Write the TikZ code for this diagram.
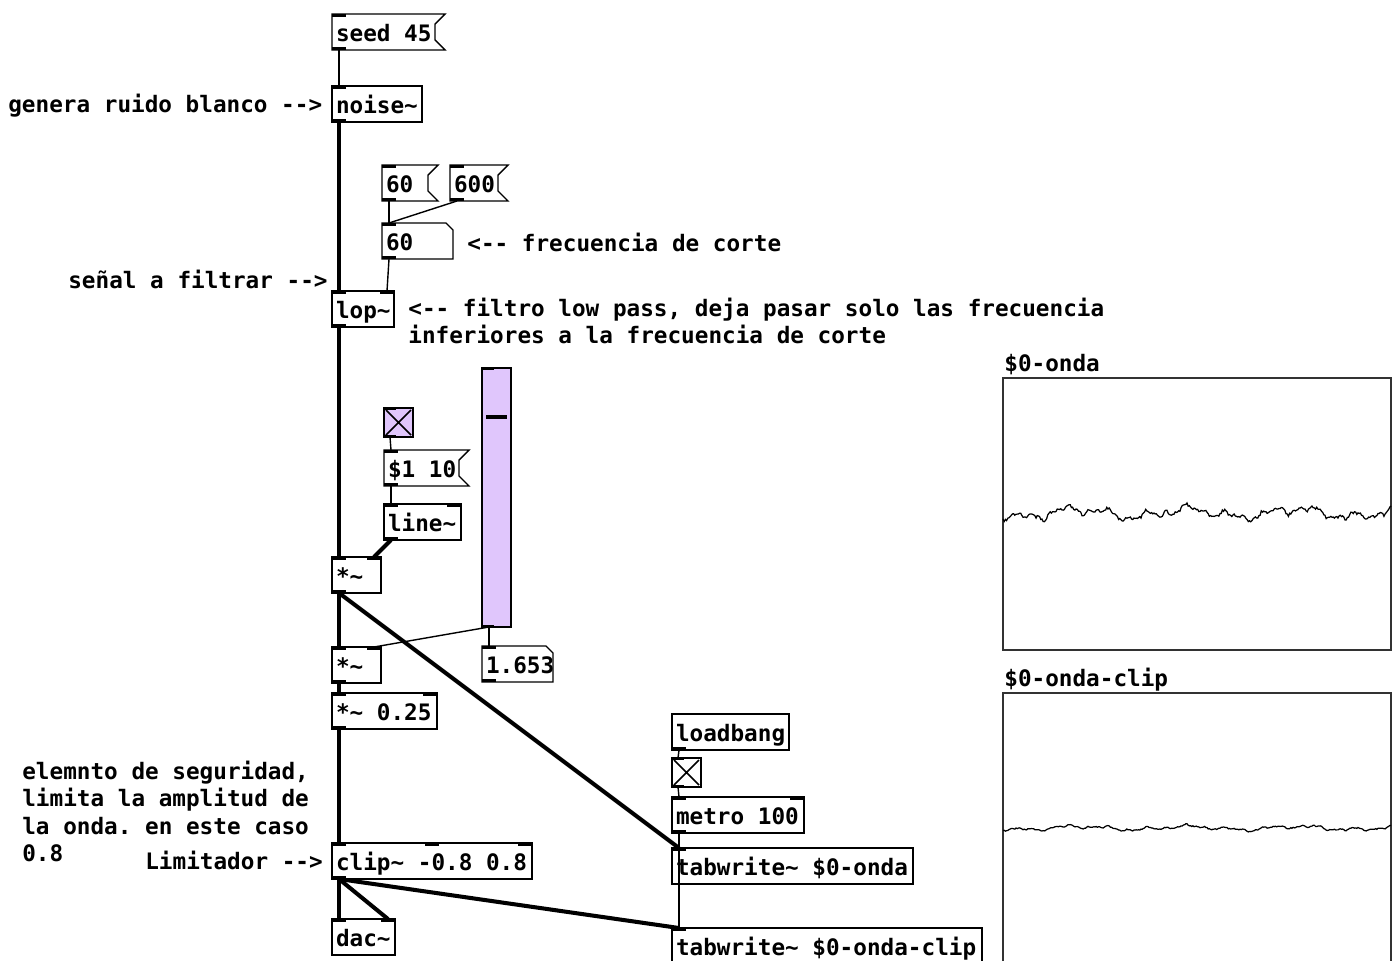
\documentclass[tikz,border=0pt]{standalone}
\usepackage{fontspec}
\setmonofont{DejaVu Sans Mono}

\newcommand{\pdu}{0.02cm}
\definecolor{pdlilac}{RGB}{224,198,252}
\definecolor{pdframe}{RGB}{50,50,50}

\tikzset{
  pdfont/.style={font=\ttfamily\bfseries\fontsize{12.9}{15}\selectfont},
  pdbox/.style={pdfont, anchor=north west, inner xsep=4*\pdu, inner ysep=0pt, outer sep=0pt,
    minimum height=36*\pdu, minimum width=#1*\pdu,
    text height=11.3pt, text depth=0pt, line width=0.8pt,
    /utils/exec={\pgfmathsetlengthmacro\pdtw{(#1-8)*\pdu}},
    execute at begin node={\hbox to \pdtw\bgroup}, execute at end node={\hss\egroup}},
  pdobj/.style={pdbox=#1, draw},
  pdmsg/.style={pdbox=#1},
  pdnum/.style={pdbox=#1},
  pdgui/.style={draw, line width=0.8pt, anchor=north west, inner sep=0pt, outer sep=0pt},
  pdtgl/.style={pdgui, minimum size=29*\pdu},
  pdnote/.style={pdfont, anchor=base west, inner sep=0pt},
  sig/.style={line width=2.3pt},
  ctl/.style={line width=0.8pt},
}

% outlines and ports of the boxes
\newcommand{\msgflag}[1]{\draw[line width=0.8pt] (#1.north west) -- (#1.north east) -- ++(-10,10)
  -- ([shift={(-10,-10)}]#1.south east) -- (#1.south east) -- (#1.south west) -- cycle;}
\newcommand{\numflag}[1]{\draw[line width=0.8pt] (#1.north west) -- ([xshift=-7*\pdu]#1.north east)
  -- ([yshift=-7*\pdu]#1.north east) -- (#1.south east) -- (#1.south west) -- cycle;}
\newcommand{\pdin}[2][0]{\fill ([xshift=#1*\pdu]#2.north west) rectangle ++(14,3);}
\newcommand{\pdinR}[1]{\fill (#1.north east) rectangle ++(-14,3);}
\newcommand{\pdout}[1]{\fill (#1.south west) rectangle ++(14,-3);}
\newcommand{\guiports}[1]{\fill (#1.north west) rectangle ++(12,2); \fill (#1.south west) rectangle ++(12,-2);}

\begin{document}
\begin{tikzpicture}[x=0.02cm, y=-0.02cm]
  \useasboundingbox (0,0) rectangle (1398,960);

  % noise source and filter
  \node[pdmsg=113] (seed) at (332,14) {seed 45};
  \msgflag{seed} \pdin{seed} \pdout{seed}
  \node[pdobj=90] (noise) at (332,86) {noise\textasciitilde};
  \pdin{noise} \pdout{noise}
  \node[pdmsg=56] (msgA) at (382,165) {60};
  \msgflag{msgA} \pdin{msgA} \pdout{msgA}
  \node[pdmsg=58] (msgB) at (450,165) {600};
  \msgflag{msgB} \pdin{msgB} \pdout{msgB}
  \node[pdnum=71] (freq) at (382,223) {60};
  \numflag{freq} \pdin{freq} \pdout{freq}
  \node[pdobj=62] (lop) at (332,291) {lop\textasciitilde};
  \pdin{lop} \pdinR{lop} \pdout{lop}

  % fade in and volume
  \node[pdtgl, fill=pdlilac] (tglA) at (384,408) {};
  \draw[line width=0.9pt] ([shift={(2,2)}]tglA.north west) -- ([shift={(-2,-2)}]tglA.south east)
    ([shift={(-2,2)}]tglA.north east) -- ([shift={(2,-2)}]tglA.south west);
  \guiports{tglA}
  \node[pdmsg=85] (ramp) at (384,450) {\$1 10};
  \msgflag{ramp} \pdin{ramp} \pdout{ramp}
  \node[pdobj=77] (line) at (384,504) {line\textasciitilde};
  \pdin{line} \pdinR{line} \pdout{line}
  \node[pdobj=49] (mulA) at (332,557) {*\textasciitilde};
  \pdin{mulA} \pdinR{mulA} \pdout{mulA}
  \node[pdgui, fill=pdlilac, minimum width=29*\pdu, minimum height=259*\pdu] (vol) at (482,368) {};
  \draw[line width=2pt] ([shift={(4,49)}]vol.north west) -- ([shift={(-4,49)}]vol.north east);
  \guiports{vol}
  \node[pdobj=49] (mulB) at (332,647) {*\textasciitilde};
  \pdin{mulB} \pdinR{mulB} \pdout{mulB}
  \node[pdnum=71] (volnum) at (482,646) {1.653};
  \numflag{volnum} \pdin{volnum} \pdout{volnum}
  \node[pdobj=105] (mulC) at (332,693) {*\textasciitilde{} 0.25};
  \pdin{mulC} \pdinR{mulC} \pdout{mulC}
  \node[pdobj=200] (clip) at (332,843) {clip\textasciitilde{} -0.8 0.8};
  \pdin{clip} \pdin[93]{clip} \pdinR{clip} \pdout{clip}
  \node[pdobj=63] (dac) at (332,919) {dac\textasciitilde};
  \pdin{dac} \pdinR{dac}

  % tables
  \node[pdobj=117] (lb) at (672,714) {loadbang};
  \pdout{lb}
  \node[pdtgl] (tglB) at (672,758) {};
  \draw[line width=0.9pt] ([shift={(2,2)}]tglB.north west) -- ([shift={(-2,-2)}]tglB.south east)
    ([shift={(-2,2)}]tglB.north east) -- ([shift={(2,-2)}]tglB.south west);
  \guiports{tglB}
  \node[pdobj=132] (metro) at (672,797) {metro 100};
  \pdin{metro} \pdinR{metro} \pdout{metro}
  \node[pdobj=241] (twA) at (672,848) {tabwrite\textasciitilde{} \$0-onda};
  \pdin{twA}
  \node[pdobj=310] (twB) at (672,928) {tabwrite\textasciitilde{} \$0-onda-clip};
  \pdin{twB}

  \node[pdgui, draw=pdframe, minimum width=388*\pdu, minimum height=272*\pdu] (gA) at (1003,378) {};
  \node[pdgui, draw=pdframe, minimum width=388*\pdu, minimum height=300*\pdu] (gB) at (1003,693) {};
  \node[pdnote] (gAtitle) at (1004,371) {\$0-onda};
  \node[pdnote] (gBtitle) at (1004,686) {\$0-onda-clip};
  \pgfmathsetseed{45}
  \draw[line width=0.7pt] plot[domain=0:388, samples=330]
    ({1003+\x}, {513 + 4*sin(3.3*\x+20) + 3*sin(8.7*\x+100) + 2*sin(19*\x+45) + 1.2*sin(37*\x) + 1.4*rand});
  \draw[line width=0.7pt] plot[domain=0:388, samples=330]
    ({1003+\x}, {828 + 0.4*(4*sin(3.3*\x+20) + 3*sin(8.7*\x+100) + 2*sin(19*\x+45) + 1.2*sin(37*\x) + 1.4*rand)});

  % connections
  \draw[ctl] ([xshift=7*\pdu]seed.south west) -- ([xshift=7*\pdu]noise.north west);
  \draw[sig] ([xshift=7*\pdu]noise.south west) -- ([xshift=7*\pdu]lop.north west);
  \draw[ctl] ([xshift=7*\pdu]msgA.south west) -- ([xshift=7*\pdu]freq.north west);
  \draw[ctl] ([xshift=7*\pdu]msgB.south west) -- ([xshift=7*\pdu]freq.north west);
  \draw[ctl] ([xshift=7*\pdu]freq.south west) -- ([xshift=-7*\pdu]lop.north east);
  \draw[sig] ([xshift=7*\pdu]lop.south west) -- ([xshift=7*\pdu]mulA.north west);
  \draw[ctl] ([xshift=6*\pdu]tglA.south west) -- ([xshift=7*\pdu]ramp.north west);
  \draw[ctl] ([xshift=7*\pdu]ramp.south west) -- ([xshift=7*\pdu]line.north west);
  \draw[sig] ([xshift=7*\pdu]line.south west) -- ([xshift=-7*\pdu]mulA.north east);
  \draw[sig] ([xshift=7*\pdu]mulA.south west) -- ([xshift=7*\pdu]mulB.north west);
  \draw[sig] ([xshift=7*\pdu]mulA.south west) -- ([xshift=7*\pdu]twA.north west);
  \draw[ctl] ([xshift=7*\pdu]vol.south west) -- ([xshift=-7*\pdu]mulB.north east);
  \draw[ctl] ([xshift=7*\pdu]vol.south west) -- ([xshift=7*\pdu]volnum.north west);
  \draw[sig] ([xshift=7*\pdu]mulB.south west) -- ([xshift=7*\pdu]mulC.north west);
  \draw[sig] ([xshift=7*\pdu]mulC.south west) -- ([xshift=7*\pdu]clip.north west);
  \draw[sig] ([xshift=7*\pdu]clip.south west) -- ([xshift=7*\pdu]dac.north west);
  \draw[sig] ([xshift=7*\pdu]clip.south west) -- ([xshift=-7*\pdu]dac.north east);
  \draw[sig] ([xshift=7*\pdu]clip.south west) -- ([xshift=7*\pdu]twB.north west);
  \draw[ctl] ([xshift=7*\pdu]lb.south west) -- ([xshift=6*\pdu]tglB.north west);
  \draw[ctl] ([xshift=6*\pdu]tglB.south west) -- ([xshift=7*\pdu]metro.north west);
  \draw[ctl] ([xshift=7*\pdu]metro.south west) -- ([xshift=7*\pdu]twA.north west);
  \draw[ctl] ([xshift=7*\pdu]metro.south west) -- ([xshift=7*\pdu]twB.north west);

  % comments
  \node[pdnote] (cNoise) at (8,112) {genera ruido blanco -->};
  \node[pdnote] (cFreq) at (467,251) {<-- frecuencia de corte};
  \node[pdnote] (cIn) at (68,288) {señal a filtrar -->};
  \node[pdnote] (cLopA) at (408,316) {<-- filtro low pass, deja pasar solo las frecuencia};
  \node[pdnote] (cLopB) at (408,343) {inferiores a la frecuencia de corte};
  \node[pdnote] (cSafeA) at (22,779) {elemnto de seguridad,};
  \node[pdnote] (cSafeB) at (22,806) {limita la amplitud de};
  \node[pdnote] (cSafeC) at (22,834) {la onda. en este caso};
  \node[pdnote] (cSafeD) at (22,861) {0.8};
  \node[pdnote] (cClip) at (145,869) {Limitador -->};
\end{tikzpicture}
\end{document}
